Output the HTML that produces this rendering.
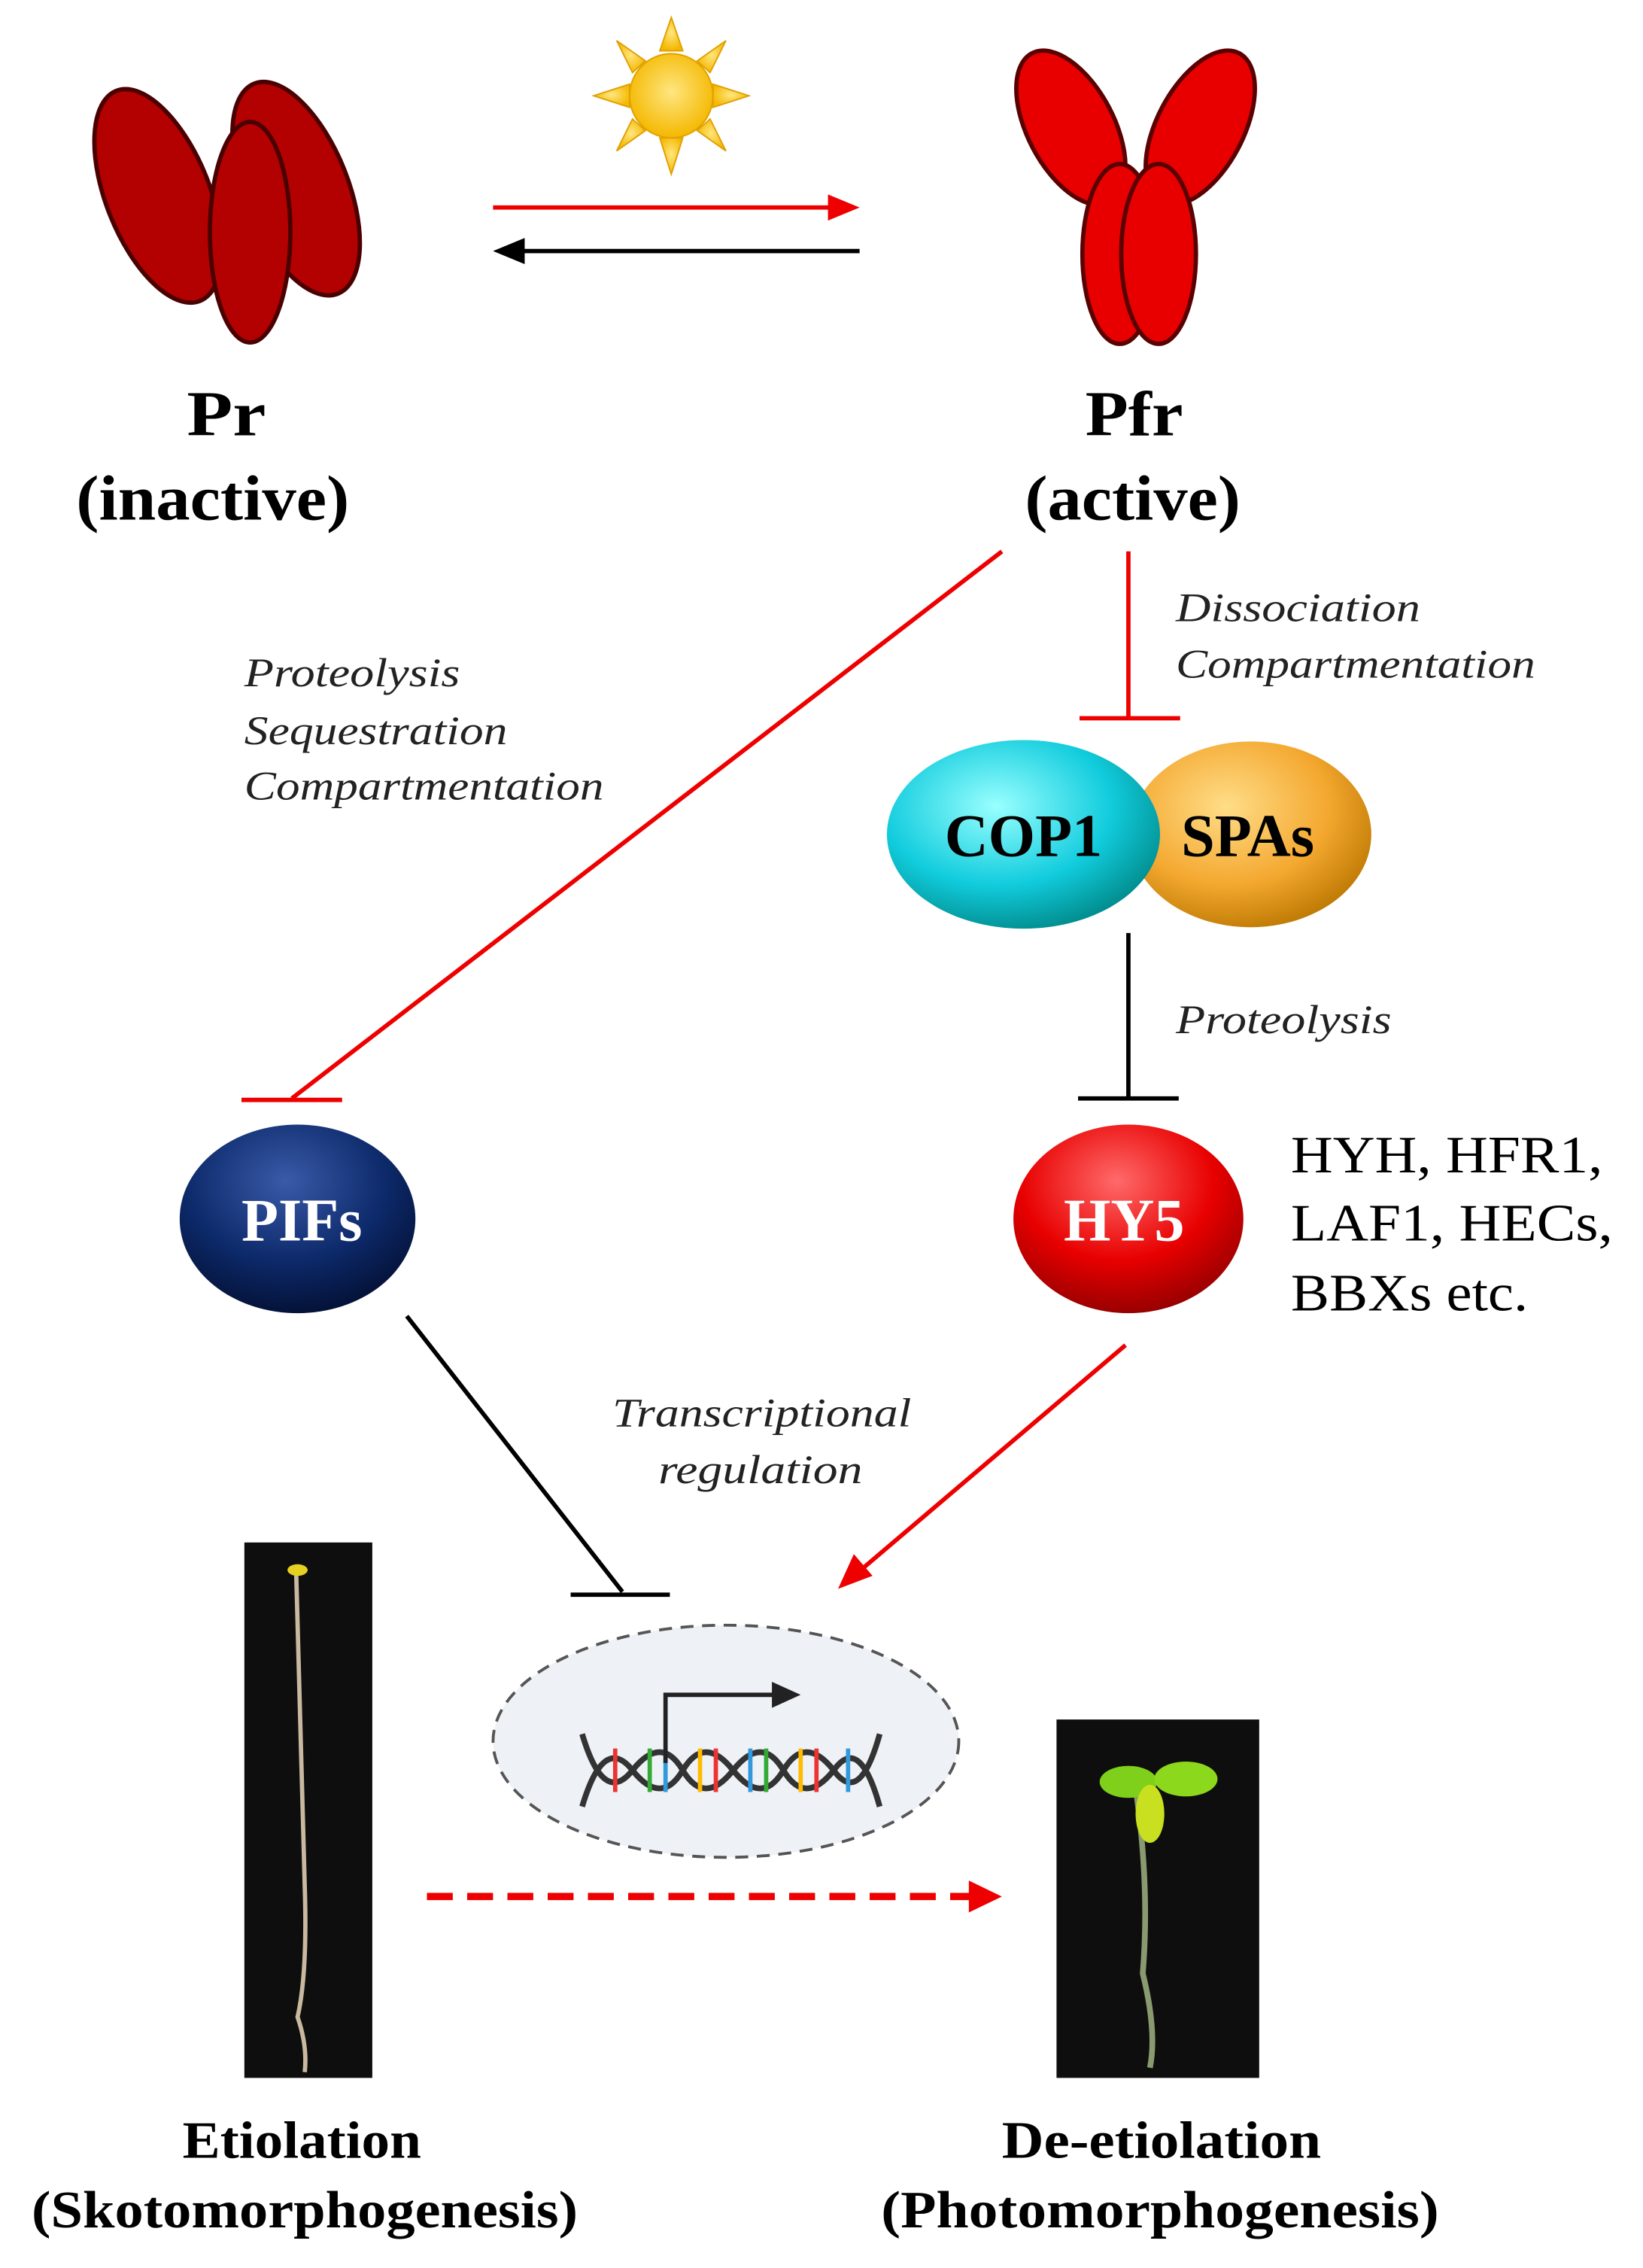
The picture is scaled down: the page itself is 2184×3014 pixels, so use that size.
<!DOCTYPE html>
<html><head><meta charset="utf-8"><style>
html,body{margin:0;padding:0;background:#fff;}
svg{display:block;}
text{font-family:"Liberation Serif",serif;}
.it{font-style:italic;font-size:28px;fill:#222;}
.b{font-weight:bold;}
</style></head><body>
<svg width="2184" height="3014" viewBox="0 0 1143 1563" preserveAspectRatio="none" xmlns="http://www.w3.org/2000/svg">
<defs>
<radialGradient id="cy" cx="40%" cy="35%" r="70%"><stop offset="0" stop-color="#9ff"/><stop offset="0.6" stop-color="#1cd"/><stop offset="1" stop-color="#088"/></radialGradient>
<radialGradient id="or" cx="40%" cy="35%" r="70%"><stop offset="0" stop-color="#fd8"/><stop offset="0.6" stop-color="#f4a830"/><stop offset="1" stop-color="#b70"/></radialGradient>
<radialGradient id="nv" cx="45%" cy="30%" r="70%"><stop offset="0" stop-color="#3a5aa8"/><stop offset="0.6" stop-color="#0d2a6b"/><stop offset="1" stop-color="#041238"/></radialGradient>
<radialGradient id="rd" cx="45%" cy="30%" r="70%"><stop offset="0" stop-color="#ff6a6a"/><stop offset="0.6" stop-color="#e80000"/><stop offset="1" stop-color="#900"/></radialGradient>
<radialGradient id="sun" cx="50%" cy="45%" r="55%"><stop offset="0" stop-color="#ffe680"/><stop offset="1" stop-color="#f4b800"/></radialGradient>
</defs>
<g fill="#b30000" stroke="#4a0000" stroke-width="3">
<ellipse cx="110" cy="135" rx="36" ry="78" transform="rotate(-22 110 135)"/>
<ellipse cx="206" cy="130" rx="36" ry="78" transform="rotate(-22 206 130)"/>
<ellipse cx="174" cy="160" rx="28" ry="76"/>
</g>
<g fill="url(#sun)" stroke="#e0a000" stroke-width="1">
<polygon points="467,12 475,35 459,35"/><polygon points="467,120 475,95 459,95"/>
<polygon points="413,66 438,58 438,74"/><polygon points="521,66 496,58 496,74"/>
<polygon points="429,28 449,42 440,50"/><polygon points="505,28 494,50 485,42"/>
<polygon points="429,104 440,82 449,90"/><polygon points="505,104 485,90 494,82"/>
<circle cx="467" cy="66" r="29"/>
</g>
<line x1="343" y1="143" x2="580" y2="143" stroke="#e00" stroke-width="3"/>
<polygon points="598,143 576,134 576,152" fill="#e00"/>
<line x1="362" y1="173" x2="598" y2="173" stroke="#000" stroke-width="3"/>
<polygon points="343,173 365,164 365,182" fill="#000"/>
<g fill="#e80000" stroke="#5a0000" stroke-width="3">
<ellipse cx="745" cy="88" rx="30" ry="58" transform="rotate(-28 745 88)"/>
<ellipse cx="835" cy="88" rx="30" ry="58" transform="rotate(28 835 88)"/>
<ellipse cx="779" cy="175" rx="26" ry="62"/>
<ellipse cx="806" cy="175" rx="26" ry="62"/>
</g>
<text x="130" y="300" font-size="44" class="b" textLength="55" lengthAdjust="spacingAndGlyphs">Pr</text>
<text x="53" y="358" font-size="44" class="b" textLength="190" lengthAdjust="spacingAndGlyphs">(inactive)</text>
<text x="755" y="300" font-size="44" class="b" textLength="68" lengthAdjust="spacingAndGlyphs">Pfr</text>
<text x="713" y="358" font-size="44" class="b" textLength="150" lengthAdjust="spacingAndGlyphs">(active)</text>
<line x1="697" y1="380" x2="203" y2="757" stroke="#e00" stroke-width="3"/>
<line x1="168" y1="758" x2="238" y2="758" stroke="#e00" stroke-width="3"/>
<text x="170" y="473" class="it" textLength="150" lengthAdjust="spacingAndGlyphs">Proteolysis</text>
<text x="170" y="513" class="it" textLength="183" lengthAdjust="spacingAndGlyphs">Sequestration</text>
<text x="170" y="551" class="it" textLength="250" lengthAdjust="spacingAndGlyphs">Compartmentation</text>
<line x1="785" y1="380" x2="785" y2="495" stroke="#e00" stroke-width="3"/>
<line x1="751" y1="495" x2="821" y2="495" stroke="#e00" stroke-width="3"/>
<text x="818" y="428" class="it" textLength="170" lengthAdjust="spacingAndGlyphs">Dissociation</text>
<text x="818" y="467" class="it" textLength="250" lengthAdjust="spacingAndGlyphs">Compartmentation</text>
<ellipse cx="870" cy="575" rx="84" ry="64" fill="url(#or)"/>
<ellipse cx="712" cy="575" rx="95" ry="65" fill="url(#cy)"/>
<text x="712" y="590" font-size="42" class="b" text-anchor="middle">COP1</text>
<text x="868" y="590" font-size="42" class="b" text-anchor="middle">SPAs</text>
<line x1="785" y1="643" x2="785" y2="757" stroke="#000" stroke-width="3"/>
<line x1="750" y1="757" x2="820" y2="757" stroke="#000" stroke-width="3"/>
<text x="818" y="712" class="it" textLength="150" lengthAdjust="spacingAndGlyphs">Proteolysis</text>
<ellipse cx="207" cy="840" rx="82" ry="65" fill="url(#nv)"/>
<text x="210" y="855" font-size="42" class="b" fill="#fff" text-anchor="middle">PIFs</text>
<ellipse cx="785" cy="840" rx="80" ry="65" fill="url(#rd)"/>
<text x="782" y="855" font-size="42" class="b" fill="#fff" text-anchor="middle">HY5</text>
<text x="898" y="808" font-size="36" textLength="217" lengthAdjust="spacingAndGlyphs">HYH, HFR1,</text>
<text x="898" y="855" font-size="36" textLength="224" lengthAdjust="spacingAndGlyphs">LAF1, HECs,</text>
<text x="898" y="903" font-size="36" textLength="165" lengthAdjust="spacingAndGlyphs">BBXs etc.</text>
<line x1="283" y1="907" x2="433" y2="1097" stroke="#000" stroke-width="3"/>
<line x1="397" y1="1099" x2="466" y2="1099" stroke="#000" stroke-width="3"/>
<line x1="783" y1="927" x2="600" y2="1081" stroke="#e00" stroke-width="3"/>
<polygon points="583,1095 594,1071 607,1086" fill="#e00"/>
<text x="426" y="983" class="it" textLength="208" lengthAdjust="spacingAndGlyphs">Transcriptional</text>
<text x="458" y="1022" class="it" textLength="142" lengthAdjust="spacingAndGlyphs">regulation</text>
<ellipse cx="505" cy="1200" rx="162" ry="80" fill="#eef2f6" stroke="#555" stroke-width="2" stroke-dasharray="9,6"/>
<g stroke-width="4" fill="none">
<path d="M405,1195 Q420,1245 440,1220 T475,1220 T510,1220 T545,1220 T580,1220 Q598,1195 612,1245" stroke="#333"/>
<path d="M405,1245 Q420,1195 440,1220 T475,1220 T510,1220 T545,1220 T580,1220 Q598,1245 612,1195" stroke="#333"/>
</g>
<g stroke-width="3">
<line x1="428" y1="1205" x2="428" y2="1235" stroke="#e33"/><line x1="452" y1="1205" x2="452" y2="1235" stroke="#3a3"/>
<line x1="463" y1="1205" x2="463" y2="1235" stroke="#39d"/><line x1="487" y1="1205" x2="487" y2="1235" stroke="#fb0"/>
<line x1="498" y1="1205" x2="498" y2="1235" stroke="#e33"/><line x1="522" y1="1205" x2="522" y2="1235" stroke="#39d"/>
<line x1="533" y1="1205" x2="533" y2="1235" stroke="#3a3"/><line x1="557" y1="1205" x2="557" y2="1235" stroke="#fb0"/>
<line x1="568" y1="1205" x2="568" y2="1235" stroke="#e33"/><line x1="590" y1="1205" x2="590" y2="1235" stroke="#39d"/>
</g>
<path d="M463,1215 L463,1168 L540,1168" stroke="#222" stroke-width="3" fill="none"/>
<polygon points="557,1168 537,1159 537,1177" fill="#222"/>
<rect x="170" y="1063" width="89" height="369" fill="#0e0e0e"/>
<path d="M206,1082 L212,1300 Q214,1360 207,1390 Q214,1410 212,1428" stroke="#c9b9a0" stroke-width="3" fill="none"/>
<ellipse cx="207" cy="1082" rx="7" ry="4" fill="#e8d020"/>
<rect x="735" y="1185" width="141" height="247" fill="#0e0e0e"/>
<path d="M790,1232 Q800,1300 795,1360 Q805,1400 800,1425" stroke="#8a9a70" stroke-width="4" fill="none"/>
<ellipse cx="785" cy="1228" rx="20" ry="11" fill="#7ed01a"/>
<ellipse cx="825" cy="1226" rx="22" ry="12" fill="#8cd81c"/>
<ellipse cx="800" cy="1250" rx="10" ry="20" fill="#c8e020"/>
<line x1="297" y1="1307" x2="678" y2="1307" stroke="#e00" stroke-width="5" stroke-dasharray="18,10"/>
<polygon points="697,1307 674,1296 674,1318" fill="#e00"/>
<text x="127" y="1487" font-size="36" class="b" textLength="166" lengthAdjust="spacingAndGlyphs">Etiolation</text>
<text x="22" y="1535" font-size="36" class="b" textLength="380" lengthAdjust="spacingAndGlyphs">(Skotomorphogenesis)</text>
<text x="697" y="1487" font-size="36" class="b" textLength="222" lengthAdjust="spacingAndGlyphs">De-etiolation</text>
<text x="613" y="1535" font-size="36" class="b" textLength="388" lengthAdjust="spacingAndGlyphs">(Photomorphogenesis)</text>
</svg>
</body></html>
